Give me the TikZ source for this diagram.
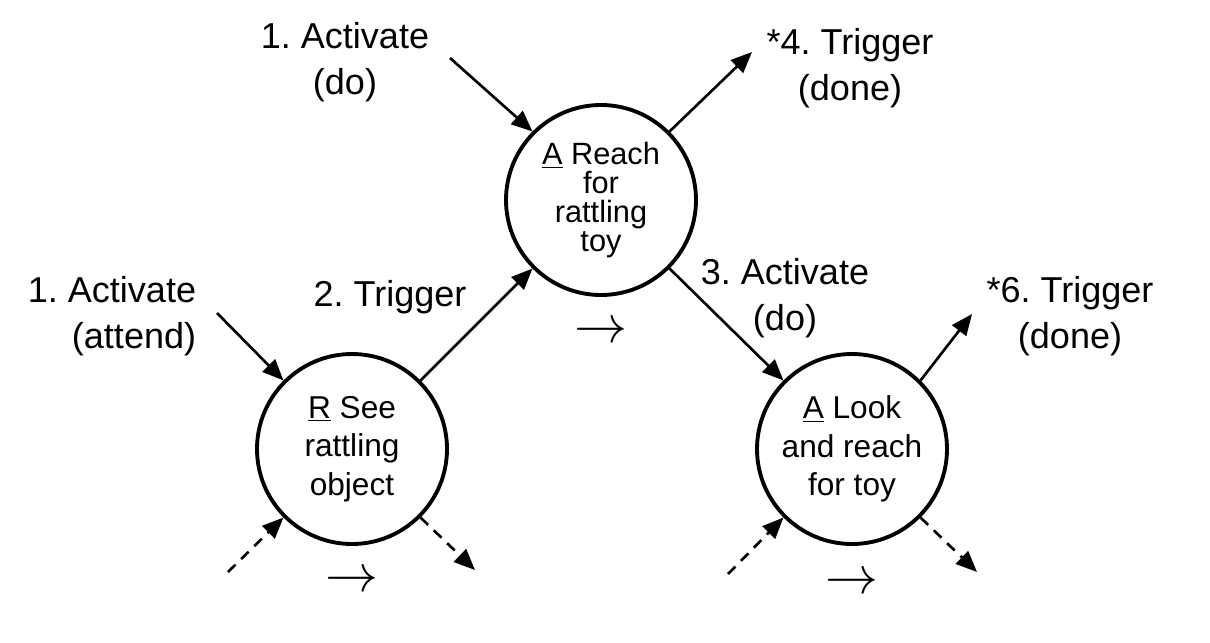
\documentclass[tikz,border=0pt]{standalone}
\usepackage{graphicx}
\usepackage{fontspec}
\setmainfont{Liberation Sans}
\usetikzlibrary{arrows.meta,positioning}
\frenchspacing

\begin{document}
\begin{tikzpicture}[
  on grid,
  every node/.style={font=\fontsize{20.5}{26}\selectfont},
  schema/.style={circle,draw,line width=2.2pt,minimum size=3.8cm,inner sep=0pt,align=center,font=\fontsize{18}{22}\selectfont},
  lbl/.style={align=center},
  arr/.style={-{Triangle[length=12pt,width=10pt]},line width=1.5pt},
  darr/.style={arr,dash pattern=on 6pt off 4.5pt},
  fwd/.style={font=\fontsize{20.74}{24}\selectfont}
]
\useasboundingbox (-7.04,-3.86) rectangle (17.16,8.98);
% the three schemas
\node[schema] (see) at (0,0) {\underline{R} See\\rattling\\object};
\node[schema,above right=4.98cm and 4.98cm of see,font=\fontsize{17.5}{16.5}\selectfont] (reach) {\underline{A} Reach\\for\\rattling\\toy};
\node[schema,below right=4.98cm and 5.02cm of reach] (look) {\underline{A} Look\\and reach\\for toy};
% labels
\node[lbl,above left=2.76cm and 5.12cm of reach] (actdo) {1. Activate\\(do)};
\node[align=right,above left=2.66cm and 4.8cm of see] (actattend) {1. Activate\\(attend)};
\node[above right=3.04cm and 0.76cm of see] (trig2) {2. Trigger};
\node[lbl,above right=2.64cm and 4.98cm of reach] (trig4) {*4. Trigger\\(done)};
\node[lbl,below right=1.96cm and 3.68cm of reach] (act3) {3. Activate\\(do)};
\node[lbl,above right=2.66cm and 4.36cm of look] (trig6) {*6. Trigger\\(done)};
% forward marks
\node[fwd,below=2.66cm of see] (see-fwd) {\scalebox{1.45}{$\rightarrow$}};
\node[fwd,below=2.66cm of reach] (reach-fwd) {\scalebox{1.45}{$\rightarrow$}};
\node[fwd,below=2.7cm of look] (look-fwd) {\scalebox{1.45}{$\rightarrow$}};
% free ends
\coordinate (actdo-s) at ([shift={(-3.02,2.84)}]reach.center);
\coordinate (attend-s) at ([shift={(-2.7,2.72)}]see.center);
\coordinate (trig4-e) at ([shift={(3.02,2.96)}]reach.center);
\coordinate (trig6-e) at ([shift={(2.4,2.7)}]look.center);
\coordinate (see-in) at ([shift={(-2.48,-2.46)}]see.center);
\coordinate (see-out) at ([shift={(2.46,-2.42)}]see.center);
\coordinate (look-in) at ([shift={(-2.48,-2.5)}]look.center);
\coordinate (look-out) at ([shift={(2.5,-2.46)}]look.center);
% connectors
\draw[arr] (actdo-s) -- (reach.135);
\draw[arr] (attend-s) -- (see.135);
\draw[arr] (see.45) -- (reach.-135);
\draw[arr] (reach.45) -- (trig4-e);
\draw[arr] (reach.-45) -- (look.135);
\draw[arr] (look.45) -- (trig6-e);
\draw[darr] (see-in) -- (see.-135);
\draw[darr] (see.-45) -- (see-out);
\draw[darr] (look-in) -- (look.-135);
\draw[darr] (look.-45) -- (look-out);
\end{tikzpicture}
\end{document}
